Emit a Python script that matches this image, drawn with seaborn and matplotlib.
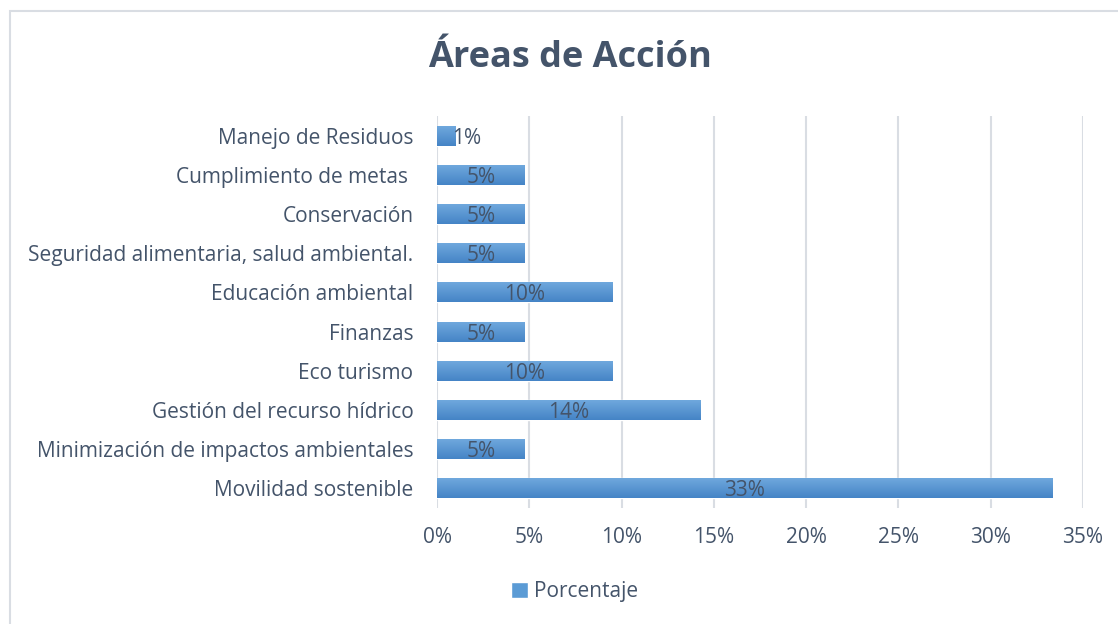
import numpy as np
import pandas as pd
import matplotlib
matplotlib.use('Agg')
import matplotlib.pyplot as plt
import seaborn as sns
from matplotlib.colors import LinearSegmentedColormap
from matplotlib.patches import Rectangle, Patch

# Data
categories = ['Manejo de Residuos', 'Cumplimiento de metas ', 'Conservación',
              'Seguridad alimentaria, salud ambiental.', 'Educación ambiental',
              'Finanzas', 'Eco turismo', 'Gestión del recurso hídrico',
              'Minimización de impactos ambientales', 'Movilidad sostenible']
values = [1.0, 4.76, 4.76, 4.76, 9.52, 4.76, 9.52, 14.29, 4.76, 33.33]
labels = ['1%', '5%', '5%', '5%', '10%', '5%', '10%', '14%', '5%', '33%']
xticks = [0, 5, 10, 15, 20, 25, 30, 35]

df = pd.DataFrame({'Área': categories, 'Porcentaje': values})

sns.set_style('white')
plt.rcParams['font.family'] = ['Open Sans', 'DejaVu Sans']
text_color = '#44546A'
fs = 15

fig = plt.figure(figsize=(11.18, 6.24), dpi=100)
ax = fig.add_axes([437 / 1118, 1 - 508 / 624, (1083 - 437) / 1118, (508 - 116) / 624])

sns.barplot(data=df, x='Porcentaje', y='Área', orient='h', color='#5B9BD5',
            width=0.51, ax=ax, zorder=3)

# Gradient fill on bars (lighter on top, darker below)
grad = LinearSegmentedColormap.from_list('bar', ['#6FA8DD', '#4584C6'])
for p in ax.patches:
    x0, y0 = p.get_x(), p.get_y()
    w, h = p.get_width(), p.get_height()
    p.set_facecolor('none')
    ax.imshow(np.linspace(0, 1, 50).reshape(-1, 1), cmap=grad, aspect='auto',
              extent=[x0, x0 + w, y0 + h, y0], origin='upper', zorder=3)

# Data labels
for i, (v, lab) in enumerate(zip(values, labels)):
    if v < 2:
        ax.text(v * 0.8, i, lab, ha='left', va='center_baseline', fontsize=fs,
                color=text_color, zorder=5)
    else:
        ax.text(v / 2, i, lab, ha='center', va='center_baseline', fontsize=fs,
                color=text_color, zorder=5)

ax.set_xlim(0, 35)
ax.set_ylim(9.5, -0.5)
ax.set_xticks(xticks)
ax.set_xticklabels([f'{t}%' for t in xticks])
ax.xaxis.grid(True, color='#D9DDE3', linewidth=1.5, zorder=0)
ax.set_axisbelow(True)
for s in ax.spines.values():
    s.set_visible(False)
ax.tick_params(axis='x', length=0, pad=14, labelsize=fs, labelcolor=text_color)
ax.tick_params(axis='y', length=0, pad=17, labelsize=fs, labelcolor=text_color)
ax.set_xlabel('')
ax.set_ylabel('')

fig.text(570 / 1118, 1 - 58 / 624, 'Áreas de Acción', ha='center', va='center',
         fontsize=26, fontweight='bold', color=text_color)

fig.legend(handles=[Patch(facecolor='#5B9BD5', label='Porcentaje')],
           loc='center', bbox_to_anchor=(575 / 1118, 1 - 592 / 624), frameon=False,
           fontsize=fs, labelcolor=text_color, handlelength=0.8, handleheight=0.8,
           handletextpad=0.3)

# Chart border
fig.patches.append(Rectangle((10 / 1118, -0.1), 1.2, 1 - 11 / 624 + 0.1,
                             transform=fig.transFigure, fill=False,
                             edgecolor='#D9DDE3', linewidth=1.5))

fig.savefig('out.png', dpi=100)
